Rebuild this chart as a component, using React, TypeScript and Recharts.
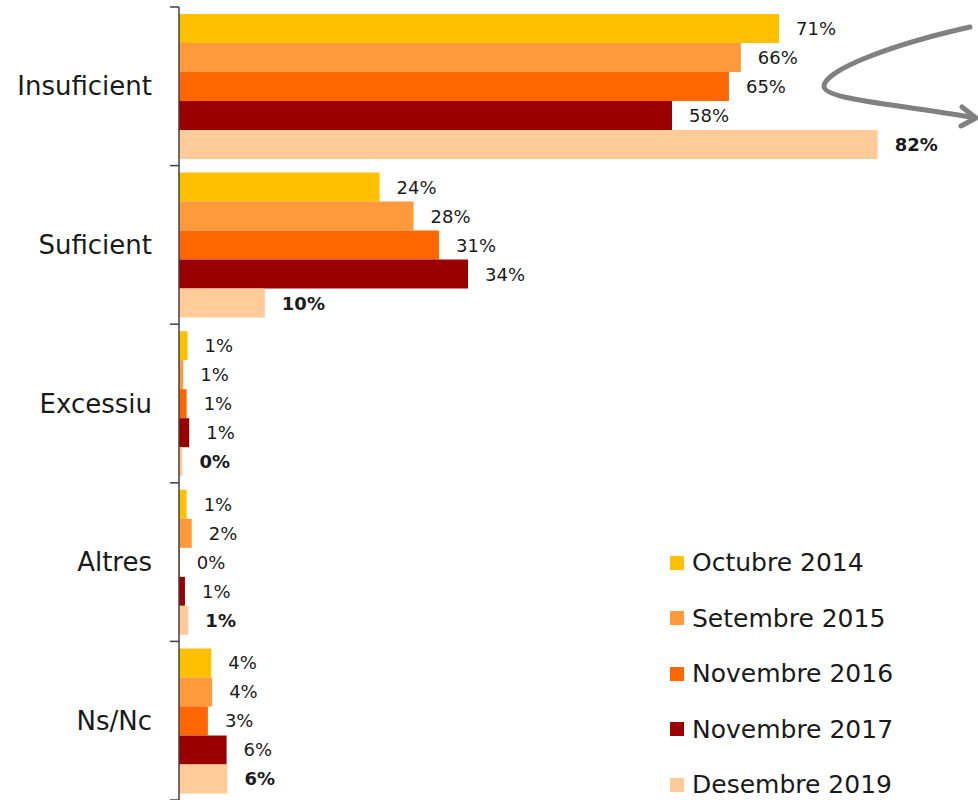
import { BarChart, Bar, XAxis, YAxis, Legend, LabelList } from 'recharts';

const categories = ['Insuficient', 'Suficient', 'Excessiu', 'Altres', 'Ns/Nc'];

const octubre2014 = [70.6, 23.6, 1.0, 0.9, 3.8];
const setembre2015 = [66.1, 27.6, 0.5, 1.5, 3.9];
const novembre2016 = [64.7, 30.6, 0.9, 0.1, 3.4];
const novembre2017 = [58.0, 34.0, 1.2, 0.7, 5.6];
const desembre2019 = [82.2, 10.1, 0.4, 1.1, 5.7];

const seriesNames = ['Octubre 2014', 'Setembre 2015', 'Novembre 2016', 'Novembre 2017', 'Desembre 2019'];
const seriesValues = [octubre2014, setembre2015, novembre2016, novembre2017, desembre2019];
const seriesColors = ['#FFC000', '#FF9A3C', '#FF6600', '#990000', '#FFCC99'];

const data = categories.map((cat, i) => {
  const row: Record<string, string | number> = { cat };
  seriesNames.forEach((name, s) => {
    row[name] = seriesValues[s][i];
  });
  return row;
});

const FONT = '"DejaVu Sans", sans-serif';
const AXIS_X = 179;
const HALF_BAND = 793 / categories.length / 2;

function CategoryTick(props: any) {
  const { y, payload, index } = props;
  return (
    <g>
      <line x1={170} x2={AXIS_X} y1={y - HALF_BAND} y2={y - HALF_BAND} stroke="#404040" strokeWidth={1.5} />
      {index === categories.length - 1 && (
        <line x1={170} x2={AXIS_X} y1={y + HALF_BAND} y2={y + HALF_BAND} stroke="#404040" strokeWidth={1.5} />
      )}
      <text x={152} y={y} textAnchor="end" dominantBaseline="central" fontSize={26} fill="#1a1a1a" fontFamily={FONT}>
        {payload.value}
      </text>
    </g>
  );
}

function makeLabel(bold: boolean) {
  return (props: any) => {
    const { x, y, width, height, value } = props;
    return (
      <text
        x={x + width + 17}
        y={y + height / 2}
        dominantBaseline="central"
        fontSize={18}
        fontWeight={bold ? 'bold' : 'normal'}
        fill="#1a1a1a"
        fontFamily={FONT}
      >
        {Math.round(value)}%
      </text>
    );
  };
}

function LegendBox() {
  return (
    <div style={{ fontFamily: FONT }}>
      {seriesNames.map((name, i) => (
        <div key={name} style={{ display: 'flex', alignItems: 'center', height: 55.5 }}>
          <div style={{ width: 14, height: 14, background: seriesColors[i], marginRight: 8 }} />
          <span style={{ fontSize: 25, color: '#1a1a1a' }}>{name}</span>
        </div>
      ))}
    </div>
  );
}

export default function App() {
  return (
    <div style={{ position: 'absolute', left: 0, top: 0, width: 978, height: 800, background: '#fff' }}>
      <BarChart
        width={978}
        height={800}
        data={data}
        layout="vertical"
        margin={{ top: 7, right: 0, left: 0, bottom: 0 }}
        barCategoryGap={7}
        barGap={0}
      >
        <XAxis type="number" domain={[0, 94]} hide />
        <YAxis
          type="category"
          dataKey="cat"
          width={AXIS_X}
          axisLine={{ stroke: '#404040', strokeWidth: 1.5 }}
          tickLine={false}
          tick={<CategoryTick />}
          interval={0}
        />
        {seriesNames.map((name, i) => (
          <Bar key={name} dataKey={name} fill={seriesColors[i]} isAnimationActive={false}>
            <LabelList dataKey={name} content={makeLabel(i === seriesNames.length - 1)} />
          </Bar>
        ))}
        <Legend
          layout="vertical"
          align="center"
          verticalAlign="middle"
          content={<LegendBox />}
          wrapperStyle={{ left: 670, top: 535, width: 300 }}
        />
      </BarChart>
      <svg width={978} height={800} style={{ position: 'absolute', left: 0, top: 0, pointerEvents: 'none' }}>
        <path
          d="M 970 27 C 890 45, 825 70, 824 86 C 823 100, 900 104, 975 118"
          fill="none"
          stroke="#808080"
          strokeWidth={5}
          strokeLinecap="round"
        />
        <path d="M 962 107 L 976 118 L 961 126" fill="none" stroke="#808080" strokeWidth={5} strokeLinecap="round" strokeLinejoin="round" />
      </svg>
    </div>
  );
}
